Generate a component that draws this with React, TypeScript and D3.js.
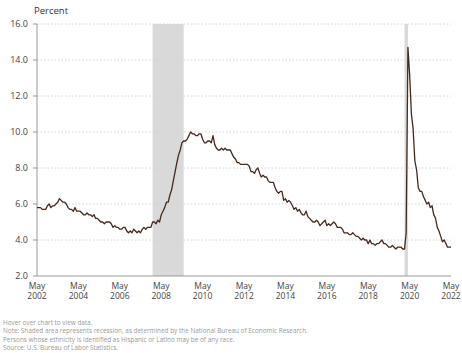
import React from 'react';
import * as d3 from 'd3';

// monthly rate, May 2002 .. May 2022
const startYear = 2002;
const startMonth = 4; // May (0-based)
const rates: number[] = [
  5.8, 5.8, 5.8, 5.7, 5.7, 5.7, 5.9, 6.0,
  5.8, 5.9, 5.9, 6.0, 6.1, 6.3, 6.2, 6.1, 6.1, 6.0, 5.8, 5.7,
  5.7, 5.6, 5.8, 5.6, 5.6, 5.6, 5.5, 5.4, 5.4, 5.5, 5.4, 5.4,
  5.3, 5.4, 5.2, 5.2, 5.1, 5.0, 5.0, 4.9, 5.0, 5.0, 5.0, 4.9,
  4.7, 4.8, 4.7, 4.7, 4.6, 4.6, 4.7, 4.7, 4.5, 4.4, 4.5, 4.4,
  4.6, 4.5, 4.4, 4.5, 4.4, 4.6, 4.7, 4.6, 4.7, 4.7, 4.7, 5.0,
  5.0, 4.9, 5.1, 5.0, 5.4, 5.6, 5.8, 6.1, 6.1, 6.5, 6.8, 7.3,
  7.8, 8.3, 8.7, 9.0, 9.4, 9.5, 9.5, 9.6, 9.8, 10.0, 9.9, 9.9,
  9.8, 9.8, 9.9, 9.9, 9.6, 9.4, 9.4, 9.5, 9.5, 9.4, 9.8, 9.3,
  9.1, 9.0, 9.0, 9.1, 9.0, 9.1, 9.0, 9.0, 9.0, 8.8, 8.6, 8.5,
  8.3, 8.3, 8.2, 8.2, 8.2, 8.2, 8.2, 8.1, 7.8, 7.8, 7.7, 7.9,
  8.0, 7.7, 7.5, 7.6, 7.5, 7.5, 7.3, 7.2, 7.2, 7.2, 6.9, 6.7,
  6.6, 6.7, 6.7, 6.2, 6.3, 6.1, 6.2, 6.1, 5.9, 5.7, 5.8, 5.6,
  5.7, 5.5, 5.4, 5.4, 5.6, 5.3, 5.2, 5.1, 5.0, 5.0, 5.1, 5.0,
  4.8, 4.9, 5.0, 5.1, 4.8, 4.9, 4.8, 4.9, 5.0, 4.9, 4.7, 4.7,
  4.7, 4.6, 4.4, 4.4, 4.4, 4.3, 4.3, 4.4, 4.3, 4.2, 4.2, 4.1,
  4.0, 4.1, 4.0, 4.0, 3.8, 4.0, 3.8, 3.8, 3.7, 3.8, 3.8, 3.9,
  4.0, 3.8, 3.8, 3.7, 3.6, 3.6, 3.7, 3.6, 3.5, 3.6, 3.6, 3.6,
  3.5, 3.5, 4.4, 14.7, 13.2, 11.0, 10.2, 8.4, 7.9, 6.9, 6.7, 6.7,
  6.4, 6.2, 6.0, 6.1, 5.8, 5.9, 5.4, 5.2, 4.7, 4.5, 4.2, 3.9,
  4.0, 3.8, 3.6, 3.6, 3.6,
];

const yTicks = [2, 4, 6, 8, 10, 12, 14, 16];
const xTickYears = [2002, 2004, 2006, 2008, 2010, 2012, 2014, 2016, 2018, 2020, 2022];
const recessions: [string, string][] = [
  ['2007-12-01', '2009-06-01'],
  ['2020-02-01', '2020-04-01'],
];
const notes = [
  'Hover over chart to view data.',
  'Note: Shaded area represents recession, as determined by the National Bureau of Economic Research.',
  'Persons whose ethnicity is identified as Hispanic or Latino may be of any race.',
  'Source: U.S. Bureau of Labor Statistics.',
];

const W = 462;
const H = 353;
const left = 37;
const right = 451;
const top = 24;
const bottom = 276;
const font = '"Open Sans", "Noto Sans", sans-serif';

export default function App() {
  const series = rates.map((v, i) => ({ date: new Date(startYear, startMonth + i, 1), v }));

  const x = d3.scaleTime()
    .domain([new Date(2002, 4, 1), new Date(2022, 4, 1)])
    .range([left, right]);
  const y = d3.scaleLinear().domain([2, 16]).range([bottom, top]);

  const line = d3.line<{ date: Date; v: number }>()
    .x((d) => x(d.date))
    .y((d) => y(d.v));

  return (
    <svg width={W} height={H} style={{ position: 'absolute', left: 0, top: 0, background: '#fff' }}>
      <text x={34} y={14} fontFamily={font} fontSize={9.5} fill="#333">Percent</text>

      {recessions.map(([a, b], i) => (
        <rect key={i} x={x(new Date(a))} y={top} width={x(new Date(b)) - x(new Date(a))}
          height={bottom - top} fill="#d9d9d9" />
      ))}

      {yTicks.map((t) => (
        <g key={t}>
          {t > 2 && (
            <line x1={left} x2={right} y1={y(t)} y2={y(t)} stroke="#d4d4d4"
              strokeWidth={1} strokeDasharray="1.5,2" />
          )}
          <line x1={left - 4} x2={left} y1={y(t)} y2={y(t)} stroke="#999" />
          <text x={left - 9} y={y(t)} dy="0.35em" textAnchor="end" fontFamily={font}
            fontSize={9} fill="#444">{t.toFixed(1)}</text>
        </g>
      ))}

      <line x1={left} x2={left} y1={top} y2={bottom} stroke="#999" />
      <line x1={left} x2={right} y1={bottom} y2={bottom} stroke="#999" />

      {xTickYears.map((yr) => {
        const px = x(new Date(yr, 4, 1));
        return (
          <g key={yr}>
            <text x={px} y={289} textAnchor="middle" fontFamily={font} fontSize={8.5} fill="#444">May</text>
            <text x={px} y={299} textAnchor="middle" fontFamily={font} fontSize={8.5} fill="#444">{yr}</text>
          </g>
        );
      })}

      <path d={line(series) ?? ''} fill="none" stroke="#45291c" strokeWidth={1.3} strokeLinejoin="round" />

      {notes.map((n, i) => (
        <text key={i} x={3} y={325 + i * 8.3} fontFamily={font} fontSize={6.4} fill="#9a9a9a">{n}</text>
      ))}
    </svg>
  );
}
